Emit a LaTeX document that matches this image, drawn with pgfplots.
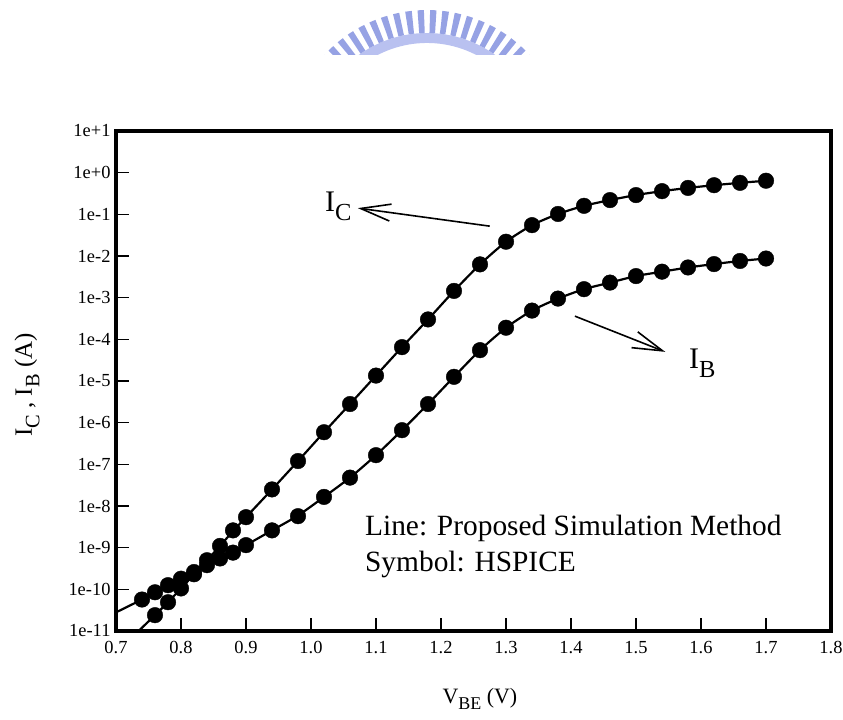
\documentclass[border=0pt]{standalone}
\usepackage{fontspec}
\setmainfont{Liberation Serif}
\usepackage{graphicx}
\usepackage{pgfplots}
\usepackage{pgfplotstable}
\pgfplotsset{compat=1.18}
\usetikzlibrary{arrows.meta}
\definecolor{wmblue}{RGB}{150,162,228}
\definecolor{wmband}{RGB}{185,193,240}
\newcommand\sub[1]{\raisebox{-0.3em}{\scalebox{0.82}{#1}}}

% HSPICE symbols
\pgfplotstableread{
x y
0.76 2.4e-11
0.78 4.9e-11
0.80 1.05e-10
0.82 2.3e-10
0.84 5.0e-10
0.86 1.1e-9
0.88 2.6e-9
0.90 5.4e-9
0.94 2.5e-8
0.98 1.2e-7
1.02 5.9e-7
1.06 2.8e-6
1.10 1.35e-5
1.14 6.5e-5
1.18 3.0e-4
1.22 1.45e-3
1.26 6.3e-3
1.30 2.2e-2
1.34 5.5e-2
1.38 0.102
1.42 0.16
1.46 0.22
1.50 0.29
1.54 0.36
1.58 0.43
1.62 0.50
1.66 0.57
1.70 0.64
}\icsym
\pgfplotstableread{
x y
0.74 5.7e-11
0.76 8.5e-11
0.78 1.26e-10
0.80 1.8e-10
0.82 2.6e-10
0.84 3.8e-10
0.86 5.5e-10
0.88 7.6e-10
0.90 1.15e-9
0.94 2.6e-9
0.98 5.7e-9
1.02 1.65e-8
1.06 4.8e-8
1.10 1.66e-7
1.14 6.6e-7
1.18 2.8e-6
1.22 1.26e-5
1.26 5.5e-5
1.30 1.9e-4
1.34 4.9e-4
1.38 9.5e-4
1.42 1.6e-3
1.46 2.3e-3
1.50 3.3e-3
1.54 4.2e-3
1.58 5.3e-3
1.62 6.4e-3
1.66 7.6e-3
1.70 8.7e-3
}\ibsym
% simulation lines
\pgfplotstableread{
x y
0.72 6.0e-12
0.74 1.2e-11
0.76 2.4e-11
0.78 4.9e-11
0.80 1.05e-10
0.82 2.3e-10
0.84 5.0e-10
0.86 1.1e-9
0.88 2.5e-9
0.90 5.4e-9
0.94 2.5e-8
0.98 1.2e-7
1.02 5.9e-7
1.06 2.8e-6
1.10 1.35e-5
1.14 6.5e-5
1.18 3.0e-4
1.22 1.45e-3
1.26 6.3e-3
1.30 2.2e-2
1.34 5.5e-2
1.38 0.102
1.42 0.16
1.46 0.22
1.50 0.29
1.54 0.36
1.58 0.43
1.62 0.50
1.66 0.57
1.70 0.64
}\icline
\pgfplotstableread{
x y
0.70 2.8e-11
0.74 5.7e-11
0.76 8.3e-11
0.78 1.22e-10
0.80 1.8e-10
0.82 2.6e-10
0.84 3.8e-10
0.86 5.4e-10
0.88 7.8e-10
0.90 1.15e-9
0.94 2.6e-9
0.98 5.9e-9
1.02 1.65e-8
1.06 4.8e-8
1.10 1.66e-7
1.14 6.6e-7
1.18 2.8e-6
1.22 1.26e-5
1.26 5.5e-5
1.30 1.9e-4
1.34 4.9e-4
1.38 9.5e-4
1.42 1.6e-3
1.46 2.3e-3
1.50 3.3e-3
1.54 4.2e-3
1.58 5.3e-3
1.62 6.4e-3
1.66 7.6e-3
1.70 8.7e-3
}\ibline

\begin{document}
\begin{tikzpicture}[x=1bp,y=1bp]
\useasboundingbox (0,0) rectangle (843,720);
% watermark logo (approximation)
\begin{scope}
\clip (250,665) rectangle (620,720);
\draw[wmband, line width=10] (427,570) ++(35:112) arc[start angle=35, end angle=145, radius=112];
\draw[wmblue, line width=23, dash pattern=on 6 off 5.5] (427,570) ++(35:128.5) arc[start angle=35, end angle=145, radius=128.5];
\end{scope}
\begin{axis}[
  at={(116bp,89bp)}, anchor=south west,
  scale only axis, width=715bp, height=500bp,
  ymode=log,
  xmin=0.7, xmax=1.8, ymin=1e-11, ymax=10,
  axis line style={line width=4.5bp},
  tick style={line width=1.6bp, black},
  major tick length=13bp,
  tick align=inside,
  xtick pos=bottom, ytick pos=left,
  yminorticks=false, xminorticks=false,
  xtick={0.7,0.8,0.9,1.0,1.1,1.2,1.3,1.4,1.5,1.6,1.7,1.8},
  xticklabels={0.7,0.8,0.9,1.0,1.1,1.2,1.3,1.4,1.5,1.6,1.7,1.8},
  ytick={1e-11,1e-10,1e-9,1e-8,1e-7,1e-6,1e-5,1e-4,1e-3,1e-2,1e-1,1,10},
  yticklabels={1e-11,1e-10,1e-9,1e-8,1e-7,1e-6,1e-5,1e-4,1e-3,1e-2,1e-1,1e+0,1e+1},
  ticklabel style={font=\fontsize{18.5}{20}\selectfont},
  xticklabel style={yshift=-7bp},
  yticklabel style={xshift=-2bp},
  xlabel={V\sub{BE} (V)},
  xlabel style={at={(rel axis cs:0.509,-0.144)}, anchor=base, font=\fontsize{22}{24}\selectfont},
  ylabel={I\sub{C} , I\sub{B} (A)},
  ylabel style={at={(rel axis cs:-0.1175,0.492)}, anchor=base, rotate=0, font=\fontsize{25}{28}\selectfont},
]
\addplot[black, line width=2.2bp, smooth, tension=0.4, no marks] table {\icline};
\addplot[black, line width=2.2bp, smooth, tension=0.4, no marks] table {\ibline};
\addplot[only marks, mark=*, mark size=7.8bp, black] table {\icsym};
\addplot[only marks, mark=*, mark size=7.8bp, black] table {\ibsym};

\draw[line width=1.6bp, -{Straight Barb[length=30bp, width=17bp, line width=1.6bp]}] (axis cs:1.275,0.052) -- (axis cs:1.072,0.141);
\draw[line width=1.6bp, -{Straight Barb[length=30bp, width=17bp, line width=1.6bp]}] (axis cs:1.406,3.6e-4) -- (axis cs:1.545,5.0e-5);
\node[anchor=base west, font=\fontsize{30}{34}\selectfont, inner sep=0] at (axis cs:1.0215,0.115) {I\sub{C}};
\node[anchor=base west, font=\fontsize{30}{34}\selectfont, inner sep=0] at (axis cs:1.5815,2.04e-5) {I\sub{B}};
\node[anchor=base west, font=\fontsize{29.5}{34}\selectfont, inner sep=0] at (axis cs:1.083,2.0e-9) {Line: Proposed Simulation Method};
\node[anchor=base west, font=\fontsize{29.5}{34}\selectfont, inner sep=0] at (axis cs:1.083,2.75e-10) {Symbol: HSPICE};
\end{axis}
\end{tikzpicture}
\end{document}
